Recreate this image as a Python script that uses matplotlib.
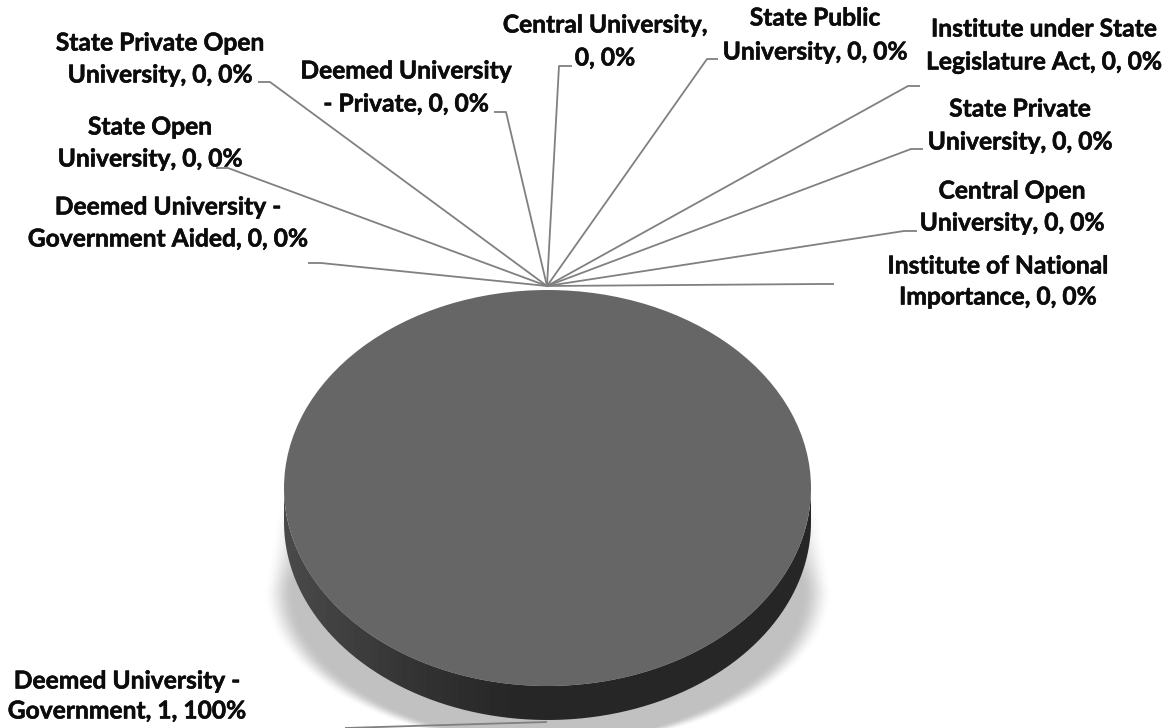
import numpy as np
import matplotlib
matplotlib.use("Agg")
import matplotlib.pyplot as plt
import matplotlib.patheffects as pe
from matplotlib.path import Path
from matplotlib.patches import PathPatch

# ---- data ----
categories = ["Deemed University - Government", "Deemed University - Government Aided",
              "State Open University", "State Private Open University",
              "Deemed University - Private", "Central University",
              "State Public University", "Institute under State Legislature Act",
              "State Private University", "Central Open University",
              "Institute of National Importance"]
values = [1, 0, 0, 0, 0, 0, 0, 0, 0, 0, 0]
first_lines = ["Deemed University -", "Deemed University -", "State Open", "State Private Open",
               "Deemed University", "Central University,", "State Public", "Institute under State",
               "State Private", "Central Open", "Institute of National"]

# ---- layout (pixels) ----
W, H = 1168, 728
label_x = [127, 168, 150, 160, 406, 605, 815, 1044, 1020, 1012, 998]
label_y = [(681, 711), (207, 239), (127, 159), (43, 75), (71, 104), (25, 58),
           (18, 52), (29, 62), (109, 142), (191, 223), (266, 297)]
elbows = [((547, 722), (345, 728)), ((321, 263), (308, 263)), ((228, 168), (216, 168)),
          ((270, 82), (258, 82)), ((506, 112), (494, 112)), ((559, 66), (572, 66)),
          ((707, 59), (718, 59)), ((908, 86), (920, 86)), ((911, 149), (923, 149)),
          ((904, 231), (917, 231)), ((820, 284), (834, 284))]
hub = (547, 286)
cx, cy, rx, ry, depth = 547.5, 488, 263.5, 198, 34

fig = plt.figure(figsize=(W / 100, H / 100), dpi=100, facecolor="white")
bg = fig.add_axes([0, 0, 1, 1])
bg.set_xlim(0, W)
bg.set_ylim(H, 0)
bg.axis("off")

# soft shadow: a flared band beside the pie that rounds off under it
yy, xx = np.mgrid[0:H, 0:W]
below = np.clip((yy - 590.0) / 155.0, 0, 0.999)
half_w = np.where(yy > 590, 284.0 * np.sqrt(1 - below ** 2),
                  np.interp(yy, [460, 590], [264, 284]))
edge = np.clip((half_w - np.abs(xx - cx)) / 30.0, 0, 1)
edge = edge * edge * (3 - 2 * edge)
alpha = edge * np.clip((yy - 460) / 120.0, 0, 1)
shade = np.ones((H, W, 4))
shade[..., :3] = 0.68
shade[..., 3] = alpha * 0.75
bg.imshow(shade, extent=(0, W, H, 0), aspect="auto", zorder=1, interpolation="bilinear")
bg.set_xlim(0, W)
bg.set_ylim(H, 0)

# extruded side with a left-to-right gradient
t = np.linspace(0, 2 * np.pi, 721)
up = t[t <= np.pi]
side_x = np.r_[cx + rx * np.cos(up), cx - rx, cx + rx * np.cos(up[::-1])]
side_y = np.r_[cy + depth + ry * np.sin(up), cy, cy + ry * np.sin(up[::-1])]
side_path = Path(np.c_[side_x, side_y])
clip = PathPatch(side_path, transform=bg.transData, fc="none", ec="none")
bg.add_patch(clip)
grad = np.interp(np.arange(W), [cx - rx, cx - 130, cx - 30, W], [0.29, 0.20, 0.15, 0.15])
im = bg.imshow(np.tile(grad, (H, 1)), extent=(0, W, H, 0), aspect="auto", cmap="gray",
               vmin=0, vmax=1, zorder=2)
im.set_clip_path(clip)
bg.set_xlim(0, W)
bg.set_ylim(H, 0)

# top face of the pie, squashed into the ellipse
pie_ax = fig.add_axes([(cx - rx) / W, 1 - (cy + ry) / H, 2 * rx / W, 2 * ry / H])
pie_ax.pie(values, startangle=90, counterclock=False, colors=["#666666"] * len(values),
           radius=1.0, wedgeprops=dict(linewidth=0))
pie_ax.set_aspect("auto")
pie_ax.set_xlim(-1, 1)
pie_ax.set_ylim(-1, 1)
pie_ax.patch.set_alpha(0)

# labels and leader lines on top
over = fig.add_axes([0, 0, 1, 1])
over.set_xlim(0, W)
over.set_ylim(H, 0)
over.axis("off")
over.patch.set_alpha(0)

total = sum(values)
for i, (cat, val, first) in enumerate(zip(categories, values, first_lines)):
    pct = round(100 * val / total)
    label = f"{cat}, {val}, {pct}%"
    second = label[len(first):].strip()
    for line, y in zip((first, second), label_y[i]):
        over.text(label_x[i], y, line, family="Lato", weight="bold", fontsize=17.7,
                  color="#0c0c0c", ha="center", va="center",
                  path_effects=[pe.withStroke(linewidth=0.4, foreground="#0c0c0c")])
    a, b = elbows[i]
    if i == 0:
        xs, ys = [a[0], b[0]], [a[1], b[1]]
    else:
        xs, ys = [hub[0], a[0], b[0]], [hub[1], a[1], b[1]]
    over.plot(xs, ys, color="#808080", lw=1.3, solid_joinstyle="round", solid_capstyle="butt")

fig.savefig("out.png", dpi=100, facecolor="white")
